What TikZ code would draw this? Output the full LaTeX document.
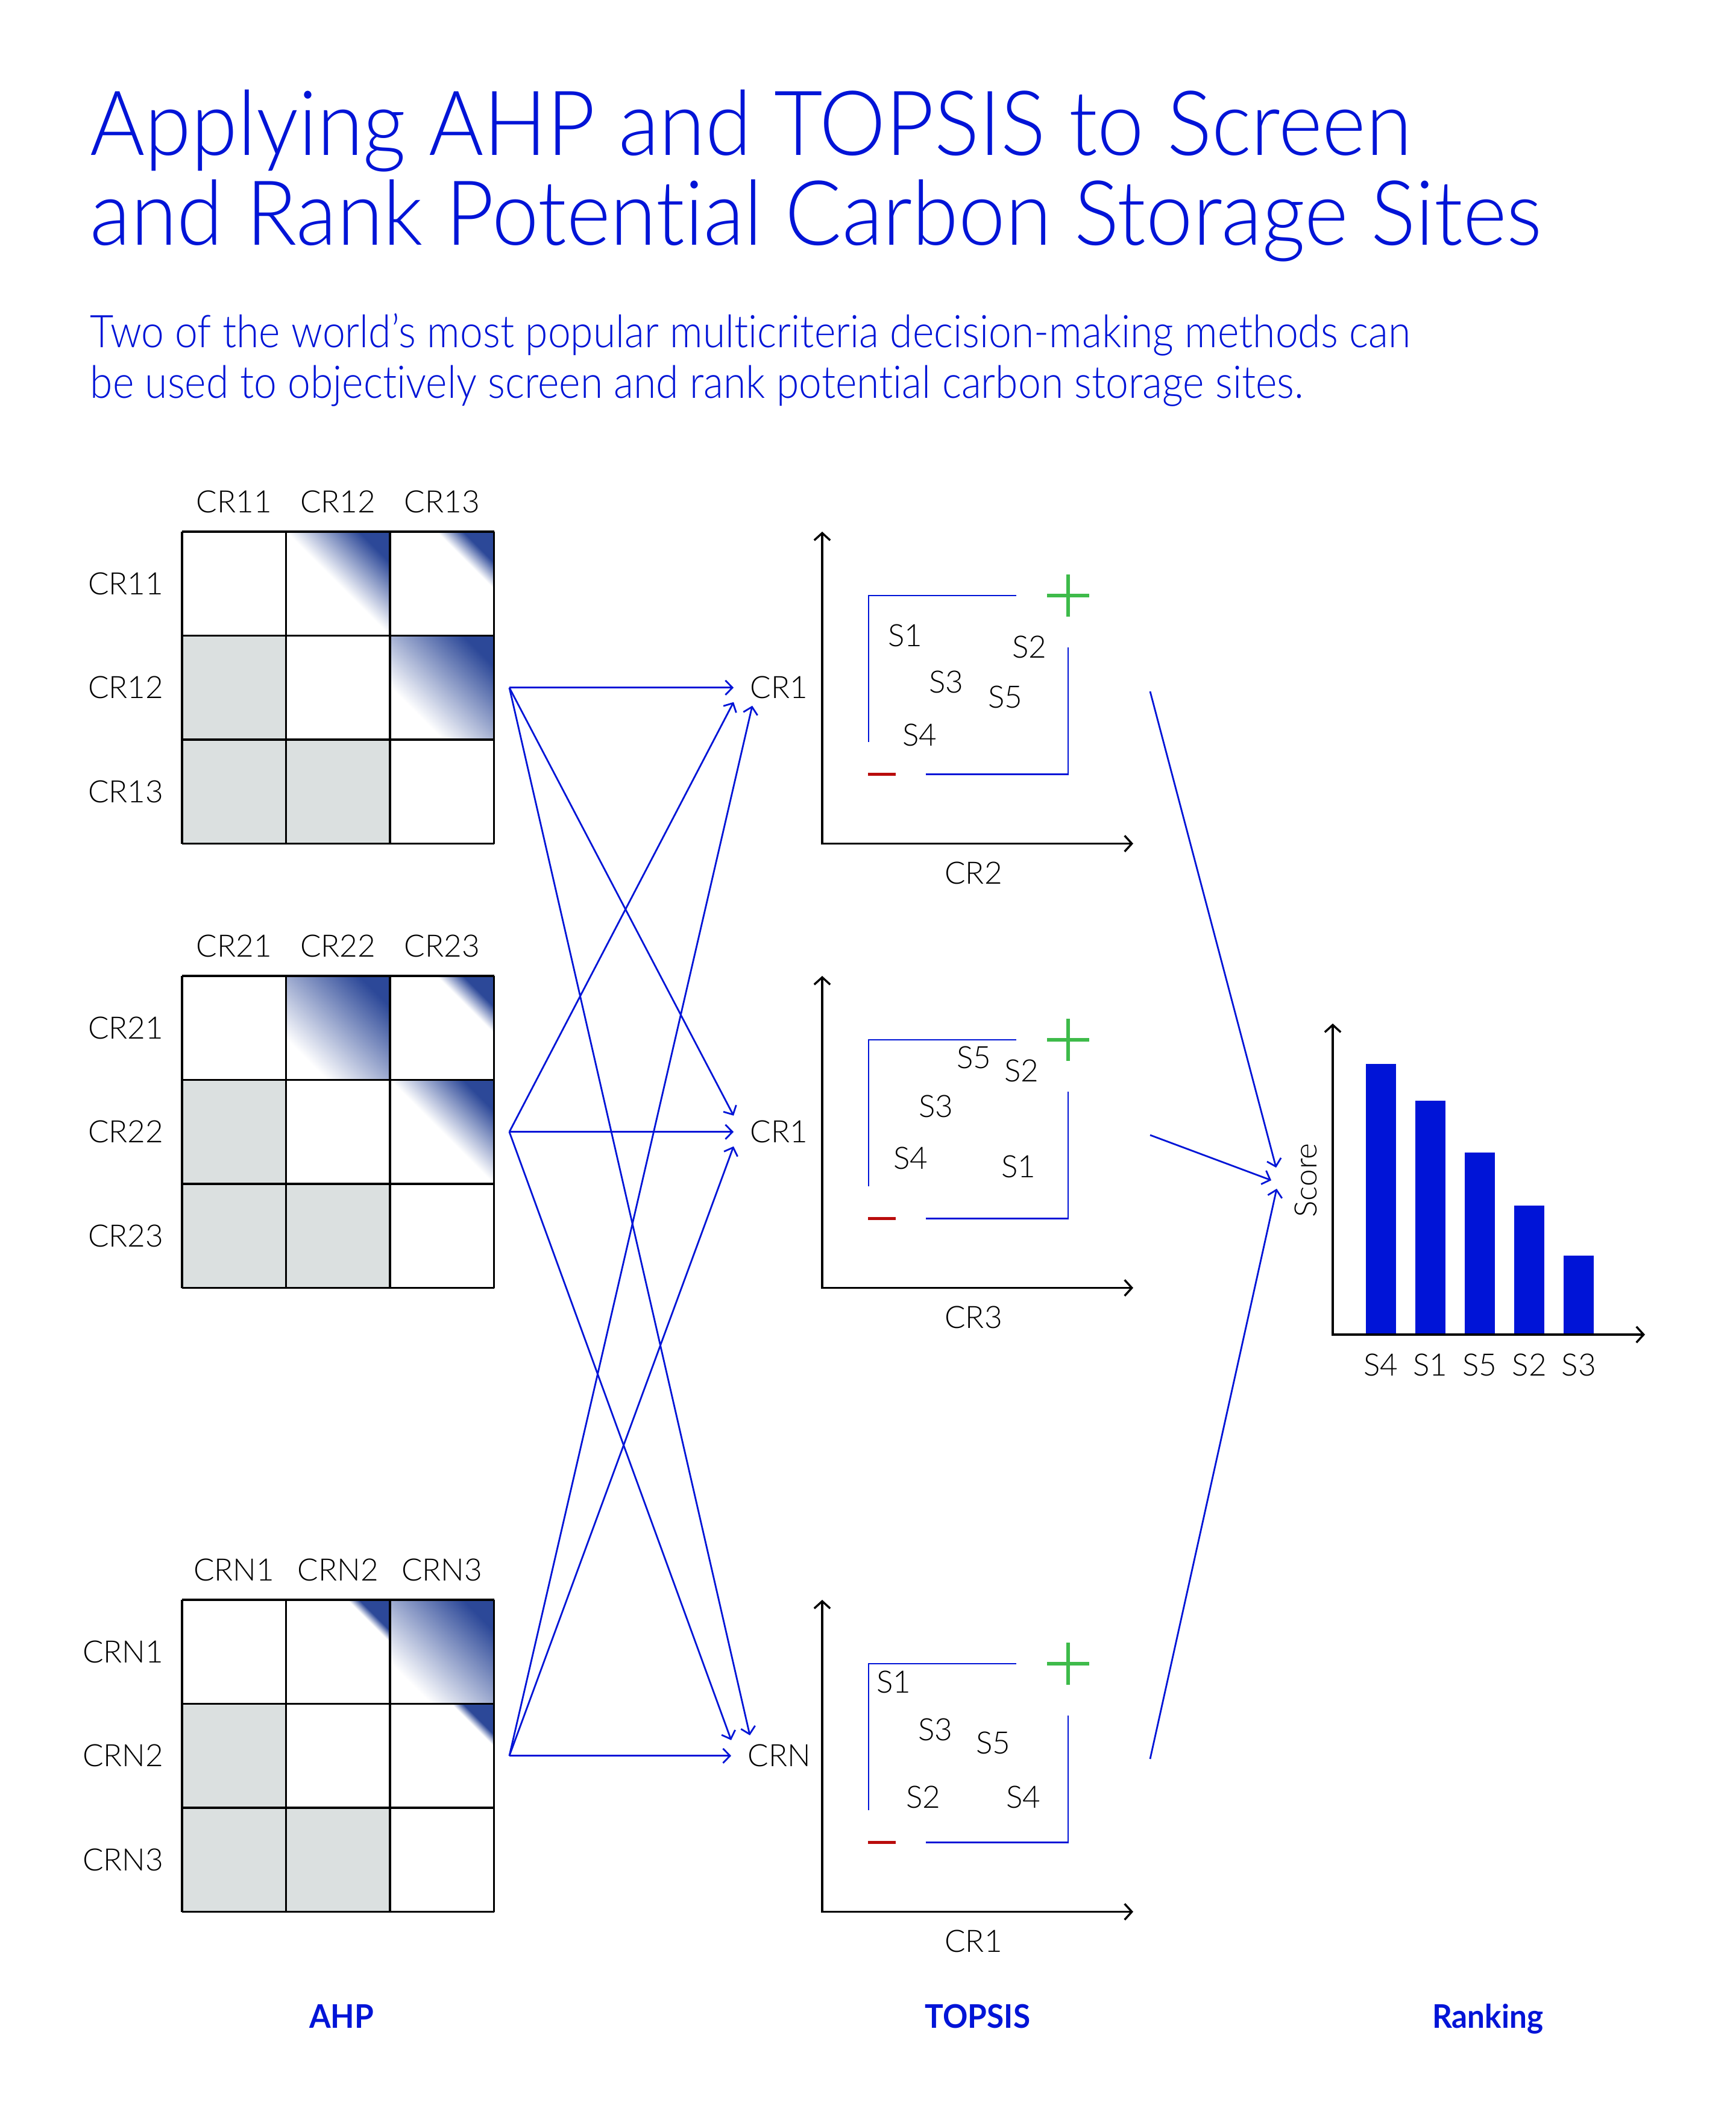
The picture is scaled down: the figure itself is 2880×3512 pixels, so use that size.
\documentclass[tikz,border=0pt]{standalone}
\usepackage{fontspec}
\setmainfont{Lato Light}[Ligatures=NoCommon]
\newfontfamily\headfont{Lato Light}[FakeStretch=0.933, Ligatures=NoCommon]
\newfontfamily\subfont{Lato Light}[FakeStretch=0.906, Ligatures=NoCommon]
\newfontfamily\stagefont{Lato Bold}[FakeStretch=0.95]
\usetikzlibrary{arrows.meta,calc}

\definecolor{sciblue}{RGB}{0,20,215}
\definecolor{cornernavy}{RGB}{44,72,152}
\definecolor{cellgray}{RGB}{219,224,224}
\definecolor{plusgreen}{RGB}{62,187,74}
\definecolor{minusred}{RGB}{185,12,12}

% corner gradients: white up to the stop, navy in the top right corner
\newcommand{\cornershading}[2]{%
  \pgfdeclarehorizontalshading{#1}{100bp}{color(0bp)=(white); color(#2bp)=(white); color(75bp)=(cornernavy); color(100bp)=(cornernavy)}}
\cornershading{tinycorner}{71}
\cornershading{smallcorner}{66}
\cornershading{halfcorner}{50}
\cornershading{bigcorner}{32.5}
\cornershading{fullcorner}{28.5}

\tikzset{
  txt/.style={inner sep=0pt, font=\fontsize{12.8}{14}\selectfont},
  tgt/.style={txt, anchor=west, inner xsep=6.75pt},
  heading/.style={inner sep=0pt, anchor=base west, text=sciblue, font=\headfont\fontsize{37.3}{37.3}\selectfont},
  subheading/.style={inner sep=0pt, anchor=base west, text=sciblue, font=\subfont\fontsize{18.7}{21}\selectfont},
  stage/.style={inner sep=0pt, anchor=base, text=sciblue, font=\stagefont\fontsize{13.5}{16}\selectfont},
  gridline/.style={line width=0.9pt},
  axes/.style={line width=0.85pt, {Straight Barb[length=3pt,width=6.6pt]}-{Straight Barb[length=3pt,width=6.6pt]}},
  flow/.style={sciblue, line width=0.7pt, -{Straight Barb[length=2.9pt,width=6pt]}},
  bracket/.style={sciblue, line width=0.6pt},
  ideal/.style={line width=1.4pt},
  corner/.style={shading=#1, shading angle=45},
}

% gray lower triangle of a pairwise matrix
\newcommand{\ahpfill}{%
  \fill[cellgray] (302,172.5) rectangle (474.5,517.5);
  \fill[cellgray] (474.5,345) rectangle (647,517.5);
}
% grid and labels: #1 label stem, #2 node prefix
\newcommand{\ahpgrid}[2]{%
  \foreach \k in {0,...,3} {
    \draw[gridline] (302+172.5*\k,0) -- (302+172.5*\k,517.5);
    \draw[gridline] (302,172.5*\k) -- (819.5,172.5*\k);
  }
  \foreach \k in {1,2,3} {
    \node[txt] (#2c\k) at (215.75+172.5*\k,-50) {#1\k};
    \node[txt, anchor=east] (#2r\k) at (272,-86.25+172.5*\k) {#1\k};
  }
}
% TOPSIS panel: #1 x axis label, #2 node prefix
\newcommand{\topsispanel}[2]{%
  \draw[axes] (1364,0) -- (1364,517.5) -- (1880,517.5);
  \node[txt] (#2axis) at (1615,566) {#1};
  \draw[bracket] (1686,106) -- (1441,106) -- (1441,349);
  \draw[bracket] (1536,402.5) -- (1772,402.5) -- (1772,192);
  \draw[ideal, plusgreen] (1737,106) -- (1807,106) (1772,71) -- (1772,141);
  \draw[ideal, minusred] (1440,402.5) -- (1486,402.5);
}

\begin{document}
\begin{tikzpicture}[x=0.25pt, y=-0.25pt]
  \fill[white] (0,0) rectangle (2880,3512);
  \useasboundingbox (0,0) rectangle (2880,3512);

  % heading
  \node[heading] (title1) at (149,257) {Applying AHP and TOPSIS to Screen};
  \node[heading] (title2) at (149,406) {and Rank Potential Carbon Storage Sites};
  \node[subheading] (sub1) at (149,576.5) {Two of the world’s most popular multicriteria decision-making methods can};
  \node[subheading] (sub2) at (149,660.7) {be used to objectively screen and rank potential carbon storage sites.};

  % first criterion
  \begin{scope}[shift={(0,882)}]
    \ahpfill
    \shade[corner=halfcorner] (474.5,0) rectangle (647,172.5);
    \shade[corner=smallcorner] (647,0) rectangle (819.5,172.5);
    \shade[corner=bigcorner] (647,172.5) rectangle (819.5,345);
    \ahpgrid{CR1}{a}
    \coordinate (asrc) at (845,258.75);
    \node[tgt] (atgt) at (1217,258.75) {CR1};
    \topsispanel{CR2}{a}
    \node[txt] (as1) at (1502,172) {S1};
    \node[txt] (as2) at (1708,191) {S2};
    \node[txt] (as3) at (1570,249) {S3};
    \node[txt] (as5) at (1668,274) {S5};
    \node[txt] (as4) at (1526,337) {S4};
    \coordinate (aout) at (1908,265);
  \end{scope}

  % second criterion
  \begin{scope}[shift={(0,1619)}]
    \ahpfill
    \shade[corner=fullcorner] (474.5,0) rectangle (647,172.5);
    \shade[corner=smallcorner] (647,0) rectangle (819.5,172.5);
    \shade[corner=halfcorner] (647,172.5) rectangle (819.5,345);
    \ahpgrid{CR2}{b}
    \coordinate (bsrc) at (845,258.75);
    \node[tgt] (btgt) at (1217,258.75) {CR1};
    \topsispanel{CR3}{b}
    \node[txt] (bs5) at (1616,135) {S5};
    \node[txt] (bs2) at (1695,157) {S2};
    \node[txt] (bs3) at (1553,216) {S3};
    \node[txt] (bs4) at (1511,302) {S4};
    \node[txt] (bs1) at (1690,316) {S1};
    \coordinate (bout) at (1908,264);
  \end{scope}

  % last criterion
  \begin{scope}[shift={(0,2654)}]
    \ahpfill
    \shade[corner=tinycorner] (474.5,0) rectangle (647,172.5);
    \shade[corner=fullcorner] (647,0) rectangle (819.5,172.5);
    \shade[corner=tinycorner] (647,172.5) rectangle (819.5,345);
    \ahpgrid{CRN}{n}
    \coordinate (nsrc) at (845,258.75);
    \node[tgt] (ntgt) at (1213,258.75) {CRN};
    \topsispanel{CR1}{n}
    \node[txt] (ns1) at (1483,136) {S1};
    \node[txt] (ns3) at (1552,215) {S3};
    \node[txt] (ns5) at (1648,237) {S5};
    \node[txt] (ns2) at (1532,327) {S2};
    \node[txt] (ns4) at (1698,327) {S4};
    \coordinate (nout) at (1908,264);
  \end{scope}

  % AHP weights into TOPSIS
  \draw[flow] (asrc) -- (atgt.west);
  \draw[flow] (asrc) -- ($(btgt.west)+(0,-27)$);
  \draw[flow] (asrc) -- ($(ntgt.west)+(31,-34)$);
  \draw[flow] (bsrc) -- ($(atgt.west)+(0,24)$);
  \draw[flow] (bsrc) -- (btgt.west);
  \draw[flow] (bsrc) -- ($(ntgt.west)+(0,-26)$);
  \draw[flow] (nsrc) -- ($(atgt.west)+(31,30)$);
  \draw[flow] (nsrc) -- ($(btgt.west)+(0,24)$);
  \draw[flow] (nsrc) -- (ntgt.west);

  % TOPSIS into ranking
  \coordinate (rankin) at (2113,1955);
  \draw[flow] (aout) -- ($(rankin)+(4,-18)$);
  \draw[flow] (bout) -- ($(rankin)+(-4,3)$);
  \draw[flow] (nout) -- ($(rankin)+(5,17)$);

  % ranking bars
  \foreach \i/\s/\h in {0/S4/1764.5, 1/S1/1825.8, 2/S5/1912, 3/S2/2000, 4/S3/2082.5} {
    \fill[sciblue] (2265.6+82.2*\i,\h) rectangle (2315.6+82.2*\i,2214);
    \node[txt] (bar\s) at (2290.6+82.2*\i,2264) {\s};
  }
  \draw[axes] (2211,1698) -- (2211,2214) -- (2729,2214);
  \node[txt, rotate=90] (score) at (2166,1958) {Score};

  % stage names
  \node[stage] (ahp) at (566.6,3364) {AHP};
  \node[stage] (topsis) at (1622,3364) {TOPSIS};
  \node[stage] (ranking) at (2468,3364) {Ranking};
\end{tikzpicture}
\end{document}
